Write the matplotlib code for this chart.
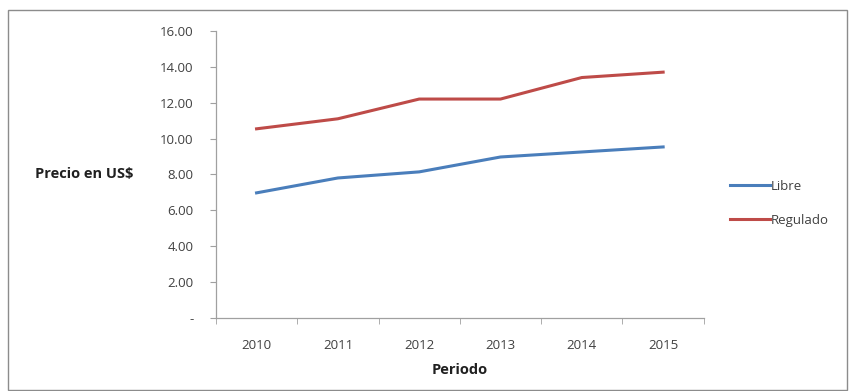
import numpy as np
import matplotlib.pyplot as plt
from matplotlib.patches import Rectangle
from matplotlib.ticker import FixedLocator

# Data
years = ["2010", "2011", "2012", "2013", "2014", "2015"]
libre = [6.97, 7.80, 8.14, 8.97, 9.25, 9.53]
regulado = [10.54, 11.10, 12.20, 12.20, 13.40, 13.70]
y_ticks = [0, 2, 4, 6, 8, 10, 12, 14, 16]

plt.rcParams['font.family'] = ['Open Sans', 'DejaVu Sans']
text_col = "#404040"
fs = 9.5

fig = plt.figure(figsize=(8.5, 3.91), dpi=100)
ax = fig.add_axes([0.254, 0.187, 0.574, 0.734])

x = np.arange(len(years))
ax.plot(x, libre, color="#4A7EBB", lw=2.2, label="Libre")
ax.plot(x, regulado, color="#BE4B48", lw=2.2, label="Regulado")

ax.set_xlim(-0.5, len(years) - 0.5)
ax.set_ylim(0, 16)
ax.set_xticks(x)
ax.set_xticklabels(years, fontsize=fs, color=text_col)
ax.xaxis.set_minor_locator(FixedLocator(np.arange(-0.5, len(years), 1)))
ax.tick_params(axis="x", which="major", length=0, pad=15)
ax.tick_params(axis="x", which="minor", length=4, color="#a0a0a0")

ax.set_yticks(y_ticks)
ax.set_yticklabels(["-"] + [f"{v:.2f}" for v in y_ticks[1:]], fontsize=fs, color=text_col)
ax.tick_params(axis="y", length=4, color="#a0a0a0", pad=12)

for side in ["top", "right"]:
    ax.spines[side].set_visible(False)
for side in ["left", "bottom"]:
    ax.spines[side].set_color("#a0a0a0")
    ax.spines[side].set_linewidth(0.9)

ax.set_xlabel("Periodo", fontsize=10.5, fontweight="bold", color="#202020", labelpad=8)
fig.text(0.041, 0.555, "Precio en US$", fontsize=10.5, fontweight="bold",
         color="#202020", va="center", ha="left")

leg = ax.legend(loc="center left", bbox_to_anchor=(1.03, 0.40), frameon=False,
                fontsize=fs, handlelength=3.0, handletextpad=0.1, labelspacing=1.6)
for t in leg.get_texts():
    t.set_color(text_col)

# outer chart border
fig.patches.append(Rectangle((0.009, 0.003), 0.988, 0.972, transform=fig.transFigure,
                             fill=False, edgecolor="#8c8c8c", lw=1.0))

fig.savefig("out.png", dpi=100)
